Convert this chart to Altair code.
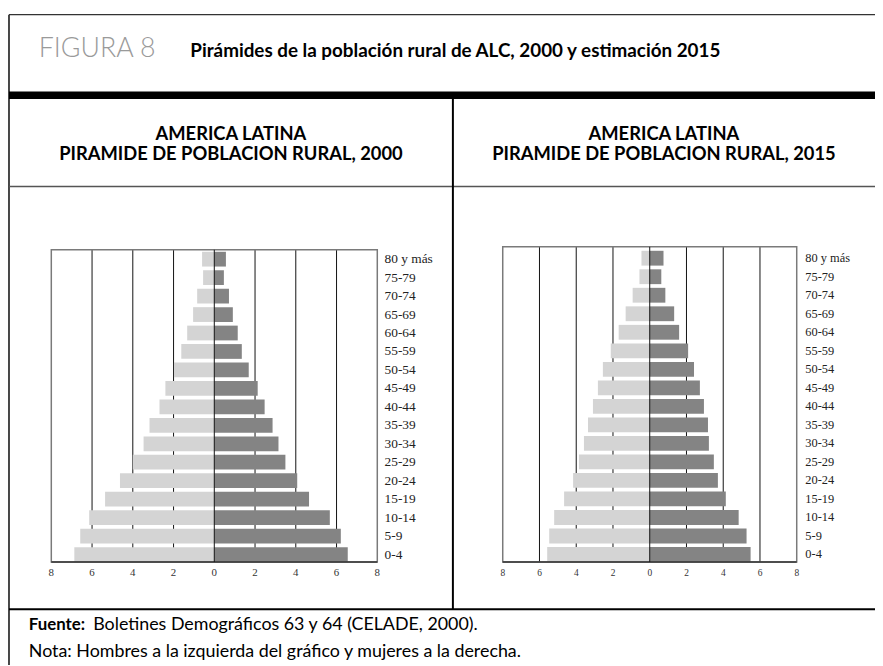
import altair as alt
import pandas as pd

# ---------------- data ----------------
ages = ["0-4", "5-9", "10-14", "15-19", "20-24", "25-29", "30-34", "35-39",
        "40-44", "45-49", "50-54", "55-59", "60-64", "65-69", "70-74", "75-79", "80 y más"]
hombres_2000 = [6.87, 6.58, 6.14, 5.36, 4.63, 4.00, 3.47, 3.18, 2.69, 2.40, 1.98, 1.62, 1.33, 1.04, 0.84, 0.55, 0.60]
mujeres_2000 = [6.55, 6.21, 5.67, 4.65, 4.07, 3.49, 3.15, 2.86, 2.47, 2.13, 1.69, 1.35, 1.15, 0.91, 0.72, 0.47, 0.57]
hombres_2015 = [5.58, 5.47, 5.20, 4.66, 4.17, 3.85, 3.58, 3.36, 3.09, 2.82, 2.55, 2.12, 1.69, 1.31, 0.93, 0.56, 0.45]
mujeres_2015 = [5.49, 5.27, 4.84, 4.14, 3.71, 3.49, 3.22, 3.17, 2.95, 2.73, 2.41, 2.09, 1.60, 1.33, 0.85, 0.63, 0.75]
ticks = [-8, -6, -4, -2, 0, 2, 4, 6, 8]
tick_labels = ["8", "6", "4", "2", "0", "2", "4", "6", "8"]
grid_vals = [-6, -4, -2, 2, 4, 6]

titulo_fig = "FIGURA 8"
titulo = "Pirámides de la población rural de ALC, 2000 y estimación 2015"
sub1 = "AMERICA LATINA"
sub2_2000 = "PIRAMIDE DE POBLACION RURAL, 2000"
sub2_2015 = "PIRAMIDE DE POBLACION RURAL, 2015"
fuente_lbl = "Fuente:"
fuente_txt = "Boletines Demográficos 63 y 64 (CELADE, 2000)."
nota = "Nota: Hombres a la izquierda del gráfico y mujeres a la derecha."

C_H = "#d4d4d4"
C_M = "#848484"
age_order = ages[::-1]
SANS = "Lato"
SERIF = "Liberation Serif"
one = pd.DataFrame({"d": [0]})


def pyr_df(h, m):
    rows = []
    for a, hv, mv in zip(ages, h, m):
        rows.append({"edad": a, "sexo": "Hombres", "v0": -hv, "v1": 0})
        rows.append({"edad": a, "sexo": "Mujeres", "v0": 0, "v1": mv})
    return pd.DataFrame(rows)


def pyramid(h, m, xr, yr, top, bottom, lab_x, lab_fs, tick_fs, tick_y):
    xs = alt.Scale(domain=[-8, 8], range=xr, nice=False, zero=False)
    ys = alt.Scale(domain=age_order, range=yr, paddingInner=0.2, paddingOuter=0)
    grid = alt.Chart(pd.DataFrame({"g": grid_vals})).mark_rule(
        color="#111", strokeWidth=1).encode(
        x=alt.X("g:Q", scale=xs, axis=None),
        y=alt.value(top), y2=alt.value(bottom))
    bars = alt.Chart(pyr_df(h, m)).mark_bar(strokeWidth=0).encode(
        x=alt.X("v0:Q", scale=xs, axis=None),
        x2="v1:Q",
        y=alt.Y("edad:N", scale=ys, axis=None),
        color=alt.Color("sexo:N", scale=alt.Scale(domain=["Hombres", "Mujeres"], range=[C_H, C_M]), legend=None))
    frame = alt.Chart(one).mark_rect(fillOpacity=0, stroke="#7a7a7a", strokeWidth=1.5).encode(
        x=alt.X(datum=-8), x2=alt.X2(datum=8),
        y=alt.value(top), y2=alt.value(bottom))
    base_line = alt.Chart(one).mark_rule(color="#333", strokeWidth=1.5).encode(
        x=alt.X(datum=-8), x2=alt.X2(datum=8), y=alt.value(bottom))
    zero = alt.Chart(pd.DataFrame({"z": [0]})).mark_rule(color="#111", strokeWidth=1).encode(
        x=alt.X("z:Q"), y=alt.value(top), y2=alt.value(bottom))
    labels = alt.Chart(pd.DataFrame({"edad": ages})).mark_text(
        align="left", baseline="middle", font=SERIF, fontSize=lab_fs, color="#222").encode(
        x=alt.value(lab_x), y=alt.Y("edad:N", scale=ys, axis=None), text="edad:N")
    tk = alt.Chart(pd.DataFrame({"t": ticks, "lab": tick_labels})).mark_text(
        align="center", baseline="middle", font=SERIF, fontSize=tick_fs, color="#333").encode(
        x=alt.X("t:Q"), y=alt.value(tick_y), text="lab:N")
    return alt.layer(grid, bars, frame, base_line, zero, labels, tk)


left = pyramid(hombres_2000, mujeres_2000, [43.7, 372.7], [243, 556], 241, 556, 380, 13.5, 11, 567)
right = pyramid(hombres_2015, mujeres_2015, [499.3, 796], [242, 556], 238, 556, 804.7, 12.5, 9.5, 567)


def hline(x1, x2, y, w, c="black"):
    return alt.Chart(one).mark_rule(color=c, strokeWidth=w).encode(
        x=alt.value(x1), x2=alt.value(x2), y=alt.value(y))


def vline(x, y1, y2, w, c="black"):
    return alt.Chart(one).mark_rule(color=c, strokeWidth=w).encode(
        x=alt.value(x), y=alt.value(y1), y2=alt.value(y2))


def txt(t, x, y, size, weight="normal", color="black", align="left", font=SANS):
    return alt.Chart(pd.DataFrame({"t": [t]})).mark_text(
        align=align, baseline="alphabetic", font=font, fontSize=size,
        fontWeight=weight, color=color).encode(
        x=alt.value(x), y=alt.value(y), text="t:N")


deco = alt.layer(
    hline(1, 880, 3.7, 1.3, "#333"),
    vline(1, 3.7, 660, 1.8, "#333"),
    alt.Chart(one).mark_rect(color="black").encode(
        x=alt.value(1), x2=alt.value(880), y=alt.value(81.3), y2=alt.value(88.7)),
    hline(1, 880, 177, 1.5, "#555"),
    vline(449, 88.7, 603.7, 2),
    hline(1, 880, 603.7, 2),
    txt(titulo_fig, 31, 46, 27, 300, "#9a9a9a"),
    txt(titulo, 184, 46, 19, "bold"),
    txt(sub1, 225, 129.7, 18.5, "bold", align="center"),
    txt(sub2_2000, 225, 150, 18.5, "bold", align="center"),
    txt(sub1, 662, 129.7, 18.5, "bold", align="center"),
    txt(sub2_2015, 662, 150, 18.5, "bold", align="center"),
    txt(fuente_lbl, 21, 625, 17, "bold"),
    txt(fuente_txt, 86, 625, 18),
    txt(nota, 21, 652, 18),
)

chart = alt.layer(deco, left, right).resolve_scale(
    x="independent", y="independent"
).properties(
    width=875, height=658, padding=0,
    autosize=alt.AutoSizeParams(type="none"),
    background="white",
).configure_view(strokeWidth=0)

chart.save("out.html", embed_options={"renderer": "svg", "actions": False})
